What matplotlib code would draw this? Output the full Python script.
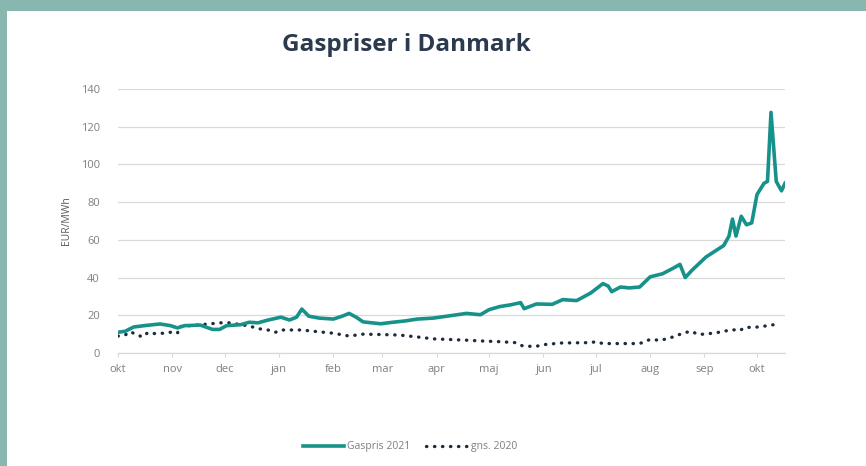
import numpy as np
import matplotlib
matplotlib.use("Agg")
import matplotlib.pyplot as plt
from matplotlib.lines import Line2D
from matplotlib.patches import Rectangle

# ---- data ----
gas_dates = ["2020-10-01","2020-10-05","2020-10-10","2020-10-16","2020-10-25","2020-10-31",
             "2020-11-04","2020-11-08","2020-11-17","2020-11-24","2020-11-28","2020-12-02",
             "2020-12-10","2020-12-15","2020-12-20","2020-12-25","2021-01-02","2021-01-07",
             "2021-01-11","2021-01-14","2021-01-18","2021-01-24","2021-02-01","2021-02-06",
             "2021-02-10","2021-02-14","2021-02-18","2021-02-28","2021-03-07","2021-03-14",
             "2021-03-21","2021-03-30","2021-04-09","2021-04-18","2021-04-26","2021-05-01",
             "2021-05-07","2021-05-13","2021-05-19","2021-05-21","2021-05-28","2021-06-06",
             "2021-06-12","2021-06-20","2021-06-28","2021-07-05","2021-07-08","2021-07-10",
             "2021-07-15","2021-07-20","2021-07-26","2021-08-01","2021-08-08","2021-08-14",
             "2021-08-18","2021-08-21","2021-08-25","2021-09-02","2021-09-12","2021-09-15",
             "2021-09-17","2021-09-19","2021-09-22","2021-09-25","2021-09-28","2021-10-01",
             "2021-10-05","2021-10-07","2021-10-09","2021-10-12","2021-10-15","2021-10-17"]
gas_2021 = [11, 11.5, 13.8, 14.5, 15.4, 14.5,
            13.3, 14.5, 14.8, 12.5, 12.5, 14.5,
            15, 16.3, 16, 17.3, 19, 17.5,
            19, 23.3, 19.5, 18.5, 18, 19.5,
            21, 19, 16.5, 15.5, 16.3, 17,
            18, 18.5, 19.8, 21, 20.3, 23,
            24.6, 25.5, 26.7, 23.5, 26, 25.8,
            28.3, 27.8, 31.8, 36.8, 35.5, 32.5,
            35, 34.5, 35, 40.4, 42, 44.9,
            47, 40, 44, 51, 57, 62,
            71, 62, 72.5, 68, 69, 84,
            90, 91, 127.6, 91, 86, 90]

avg_dates = ["2020-10-01","2020-10-05","2020-10-08","2020-10-11","2020-10-15","2020-10-18",
             "2020-10-22","2020-10-28","2020-10-31","2020-11-04","2020-11-05","2020-11-11",
             "2020-11-17","2020-11-23","2020-11-28","2020-12-04","2020-12-10","2020-12-14",
             "2020-12-21","2020-12-27","2020-12-30","2021-01-02","2021-01-14","2021-01-23",
             "2021-02-01","2021-02-10","2021-02-18","2021-02-28","2021-03-11","2021-03-21",
             "2021-03-30","2021-04-18","2021-04-26","2021-05-07","2021-05-16","2021-05-20",
             "2021-05-27","2021-06-02","2021-06-11","2021-06-28","2021-07-01","2021-07-05",
             "2021-07-26","2021-08-01","2021-08-07","2021-08-14","2021-08-20","2021-08-24",
             "2021-08-29","2021-09-07","2021-09-17","2021-09-21","2021-09-24","2021-10-02",
             "2021-10-12"]
avg_2020 = [9, 9.5, 11.3, 10, 8.5, 10.8,
            10.3, 10.5, 11, 10.5, 14, 14.5,
            15, 15.5, 16, 16, 15, 14.5,
            12.8, 12, 11, 12.2, 12.2, 11.3,
            10.5, 9, 10, 9.8, 9.5, 8.5,
            7.5, 6.8, 6.4, 6, 5.5, 3.8,
            3.4, 4.5, 5.3, 5.5, 6, 5,
            5, 7.2, 6.7, 8.5, 10.6, 11.5,
            9.8, 10.6, 12.4, 11.8, 13.5, 13.8,
            15.2]

month_ticks = ["2020-10-01","2020-11-01","2020-12-01","2021-01-01","2021-02-01","2021-03-01",
               "2021-04-01","2021-05-01","2021-06-01","2021-07-01","2021-08-01","2021-09-01",
               "2021-10-01"]
month_labels = ["okt","nov","dec","jan","feb","mar","apr","maj","jun","jul","aug","sep","okt"]
y_ticks = [0, 20, 40, 60, 80, 100, 120, 140]

title = "Gaspriser i Danmark"
ylabel = "EUR/MWh"
series_names = ["Gaspris 2021", "gns. 2020"]

# ---- style ----
teal = "#17928a"
dark = "#1e2b3a"
grey_text = "#7f7f7f"
grid_col = "#d9d9d9"
frame_col = "#87b7ae"
font = ["Open Sans", "DejaVu Sans"]

gd = np.array(gas_dates, dtype="datetime64[D]")
ad = np.array(avg_dates, dtype="datetime64[D]")
td = np.array(month_ticks, dtype="datetime64[D]")

fig = plt.figure(figsize=(8.66, 4.66), dpi=100)
fig.patch.set_facecolor("white")

# frame (top band and left strip)
fig.add_artist(Rectangle((0, 1 - 11/466), 1, 11/466, transform=fig.transFigure,
                         facecolor=frame_col, edgecolor="none", zorder=0))
fig.add_artist(Rectangle((0, 0), 7/866, 1, transform=fig.transFigure,
                         facecolor=frame_col, edgecolor="none", zorder=0))

ax = fig.add_axes([118/866, 1 - 353/466, (785 - 118)/866, (353 - 89)/466])
ax.plot(gd, gas_2021, color=teal, lw=2.6, solid_joinstyle="round", zorder=3)
ax.plot(ad, avg_2020, color=dark, lw=2.4, linestyle=(0, (0.1, 2.3)),
        dash_capstyle="round", zorder=2)

ax.set_ylim(0, 140)
ax.set_xlim(np.datetime64("2020-10-01"), np.datetime64("2021-10-17"))
ax.set_yticks(y_ticks)
ax.set_yticklabels([str(v) for v in y_ticks], fontsize=8, color=grey_text, family=font)
ax.set_xticks(td)
ax.set_xticklabels(month_labels, fontsize=8, color=grey_text, family=font)
ax.yaxis.grid(True, color=grid_col, lw=0.9)
ax.set_axisbelow(True)
for s in ["top", "right", "left"]:
    ax.spines[s].set_visible(False)
ax.spines["bottom"].set_color(grid_col)
ax.spines["bottom"].set_linewidth(0.9)
ax.tick_params(axis="y", length=0, pad=13)
ax.tick_params(axis="x", length=3, color=grid_col, pad=5)
ax.set_ylabel(ylabel, fontsize=7.5, color="#595959", family=font, labelpad=6)

fig.text(406/866, 1 - 45/466, title, ha="center", va="center", fontsize=17.5,
         fontweight="bold", color="#2b3a4e", family=font)

handles = [Line2D([], [], color=teal, lw=2.6),
           Line2D([], [], color=dark, lw=2.4, linestyle=(0, (0.1, 2.3)), dash_capstyle="round")]
leg = fig.legend(handles, series_names, loc="center", bbox_to_anchor=(410/866, 1 - 447/466),
                 ncol=2, frameon=False, handlelength=4, handletextpad=0.3,
                 columnspacing=1.5, prop={"family": font, "size": 7.5})
for t in leg.get_texts():
    t.set_color(grey_text)

fig.savefig("out.png", dpi=100, facecolor="white")
